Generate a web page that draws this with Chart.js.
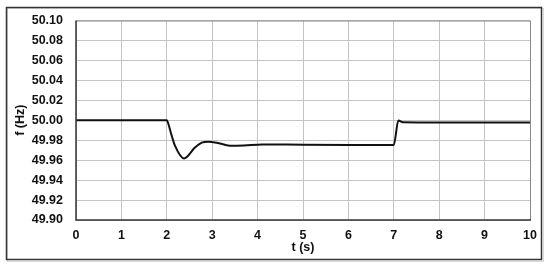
<!DOCTYPE html>
<html>
<head>
<meta charset="utf-8">
<script src="https://cdn.jsdelivr.net/npm/chart.js@4.4.0/dist/chart.umd.min.js"></script>
<style>
body{margin:0;background:#fff;}
#wrap{width:550px;height:270px;}
</style>
</head>
<body>
<div id="wrap"><canvas id="freqChart" width="550" height="270"></canvas></div>
<script>
const times=[0,2.0,2.04,2.1,2.18,2.38,2.62,2.77,2.91,3.1,3.39,3.7,4.1,5,6,7.0,7.1,7.2,8,9,10];
const freq=[50.0,50.0,49.9955,49.9858,49.9745,49.9617,49.9726,49.9775,49.9785,49.9775,49.9745,49.9748,49.9758,49.9755,49.9753,49.9752,49.9998,49.998,49.9978,49.9978,49.9978];
const xTicks=[0,1,2,3,4,5,6,7,8,9,10];
const yTicks=[49.90,49.92,49.94,49.96,49.98,50.00,50.02,50.04,50.06,50.08,50.10];

const font={family:"'Liberation Sans', Arial, sans-serif",size:12.5,weight:"bold"};

/* outer frame + plot border */
const framePlugin={
id:"frame",
beforeDraw(c){
let ctx=c.ctx;
ctx.save();
ctx.fillStyle="#fff";
ctx.fillRect(0,0,c.width,c.height);
ctx.strokeStyle="#d8d8d8";
ctx.lineWidth=1;
ctx.strokeRect(7.5,8.5,536,253);
ctx.strokeStyle="#333";
ctx.lineWidth=1.5;
ctx.strokeRect(6.5,7.5,535,252);
ctx.restore();
},
afterDatasetsDraw(c){
let a=c.chartArea,ctx=c.ctx;
ctx.save();
ctx.strokeStyle="#888";
ctx.lineWidth=1;
ctx.beginPath();
ctx.moveTo(a.left,a.top+0.5);ctx.lineTo(a.right+0.5,a.top+0.5);ctx.lineTo(a.right+0.5,a.bottom);
ctx.stroke();
ctx.strokeStyle="#333";
ctx.lineWidth=1.5;
ctx.beginPath();
ctx.moveTo(a.left,a.top);ctx.lineTo(a.left,a.bottom);ctx.lineTo(a.right+1,a.bottom);
ctx.stroke();
ctx.restore();
}
};

new Chart(document.getElementById("freqChart"),{
type:"line",
data:{datasets:[{
data:times.map((t,i)=>({x:t,y:freq[i]})),
borderColor:"#111",
borderWidth:2,
pointRadius:0,
cubicInterpolationMode:"monotone",
fill:false
}]},
options:{
responsive:false,
animation:false,
layout:{padding:{left:7,right:20,top:18,bottom:10}},
plugins:{legend:{display:false},tooltip:{enabled:false}},
scales:{
x:{
type:"linear",min:0,max:10,
afterBuildTicks:s=>{s.ticks=xTicks.map(v=>({value:v}));},
afterFit:s=>{s.height=40;},
grid:{color:"#c4c4c4",drawTicks:false},
border:{display:false},
ticks:{font:font,color:"#111",padding:8,maxRotation:0},
title:{display:true,text:"t (s)",font:font,color:"#111",padding:{top:0,bottom:5}}
},
y:{
min:49.9,max:50.1,
afterBuildTicks:s=>{s.ticks=yTicks.map(v=>({value:v}));},
afterFit:s=>{s.width=69;},
grid:{color:"#c4c4c4",drawTicks:false},
border:{display:false},
ticks:{font:font,color:"#111",padding:13,callback:v=>v.toFixed(2)},
title:{display:true,text:"f (Hz)",font:font,color:"#111",padding:{top:6,bottom:0}}
}
}
},
plugins:[framePlugin]
});
</script>
</body>
</html>
